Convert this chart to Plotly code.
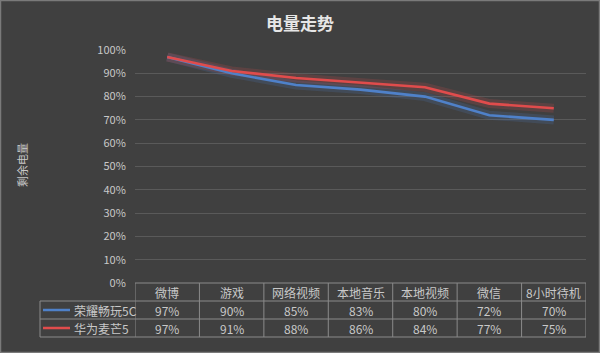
import plotly.graph_objects as go

categories = ["微博", "游戏", "网络视频", "本地音乐", "本地视频", "微信", "8小时待机"]
series_names = ["荣耀畅玩5C", "华为麦芒5"]
honor = [0.97, 0.90, 0.85, 0.83, 0.80, 0.72, 0.70]
huawei = [0.97, 0.91, 0.88, 0.86, 0.84, 0.77, 0.75]
y_ticks = [0, 0.1, 0.2, 0.3, 0.4, 0.5, 0.6, 0.7, 0.8, 0.9, 1.0]

colors = ["#4f81c9", "#e04c4c"]
glow = ["rgba(79,129,201,0.18)", "rgba(224,76,76,0.18)"]
series = [honor, huawei]

W, H = 600, 353
L, R, T, B = 135, 14, 50, 70
PW, PH = W - L - R, H - T - B
FONT = "Noto Sans CJK SC, Microsoft YaHei, sans-serif"
TXT = "#c8c8c8"
GRID_TBL = "#8a8a8a"


def px(p):
    return (p - L) / PW


def py(p):
    return (H - B - p) / PH


fig = go.Figure()
x_idx = list(range(len(categories)))
for i, vals in enumerate(series):
    fig.add_trace(go.Scatter(x=x_idx, y=vals, mode="lines",
                             line=dict(color=glow[i], width=9),
                             hoverinfo="skip", showlegend=False))
for i, vals in enumerate(series):
    fig.add_trace(go.Scatter(x=x_idx, y=vals, mode="lines", name=series_names[i],
                             line=dict(color=colors[i], width=2.6),
                             showlegend=False))

row_h = 18
y0 = H - B  # 283
rows_px = [y0, y0 + row_h, y0 + 2 * row_h, y0 + 3 * row_h]
leg_x0 = px(40)

shapes = []
annotations = []
line_style = dict(color=GRID_TBL, width=1)
shapes.append(dict(type="line", xref="x", yref="paper", x0=-0.5, x1=6.5,
                   y0=py(rows_px[0]), y1=py(rows_px[0]), line=line_style))
for r in rows_px[1:]:
    shapes.append(dict(type="line", xref="paper", yref="paper", x0=leg_x0, x1=1,
                       y0=py(r), y1=py(r), line=line_style))
for k in range(len(categories) + 1):
    shapes.append(dict(type="line", xref="x", yref="paper", x0=k - 0.5, x1=k - 0.5,
                       y0=py(rows_px[0]), y1=py(rows_px[3]), line=line_style))
shapes.append(dict(type="line", xref="paper", yref="paper", x0=leg_x0, x1=leg_x0,
                   y0=py(rows_px[1]), y1=py(rows_px[3]), line=line_style))

cell_font = dict(family=FONT, size=12, color=TXT)
for k, c in enumerate(categories):
    annotations.append(dict(x=k, y=py((rows_px[0] + rows_px[1]) / 2), xref="x", yref="paper",
                            xanchor="center", yanchor="middle",
                            text=c, showarrow=False, font=cell_font))
for i, vals in enumerate(series):
    yc = py((rows_px[i + 1] + rows_px[i + 2]) / 2)
    for k, v in enumerate(vals):
        annotations.append(dict(x=k, y=yc, xref="x", yref="paper",
                                xanchor="center", yanchor="middle",
                                text=f"{round(v * 100)}%", showarrow=False, font=cell_font))
    shapes.append(dict(type="line", xref="paper", yref="paper", x0=px(43), x1=px(70),
                       y0=yc, y1=yc, line=dict(color=colors[i], width=2.5)))
    annotations.append(dict(x=px(72), y=yc, xref="paper", yref="paper",
                            xanchor="left", yanchor="middle",
                            text=series_names[i], showarrow=False, font=cell_font))

annotations.append(dict(x=px(300), y=py(22), xref="paper", yref="paper",
                        xanchor="center", yanchor="middle", text="<b>电量走势</b>",
                        showarrow=False, font=dict(family=FONT, size=17, color="#e6e6e6")))
annotations.append(dict(x=px(22), y=py(165), xref="paper", yref="paper",
                        xanchor="center", yanchor="middle", text="剩余电量",
                        textangle=-90, showarrow=False,
                        font=dict(family=FONT, size=11, color=TXT)))
shapes.append(dict(type="rect", xref="paper", yref="paper", x0=px(0.5), x1=px(W - 0.5),
                   y0=py(H - 0.5), y1=py(0.5),
                   line=dict(color="#7a7a7a", width=1.5), layer="below"))

fig.update_layout(
    width=W, height=H,
    margin=dict(l=L, r=R, t=T, b=B),
    paper_bgcolor="#404040", plot_bgcolor="#404040",
    shapes=shapes, annotations=annotations,
    xaxis=dict(range=[-0.5, 6.5], showticklabels=False, showgrid=False, zeroline=False,
               fixedrange=True),
    yaxis=dict(range=[0, 1.0], tickvals=y_ticks, tickformat=".0%",
               gridcolor="#5a5a5a", gridwidth=1, zeroline=False,
               ticks="outside", ticklen=6, tickcolor="rgba(0,0,0,0)",
               tickfont=dict(family=FONT, size=11, color=TXT), fixedrange=True),
    showlegend=False,
)
fig.write_html("out.html")
